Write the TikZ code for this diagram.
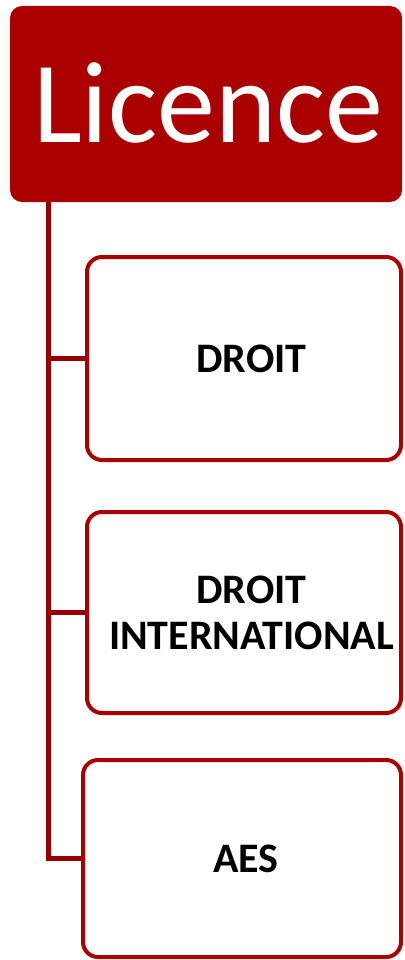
\documentclass[tikz,border=0pt]{standalone}
\usepackage{fontspec}
\setmainfont{Carlito}
\definecolor{boxred}{HTML}{AA0000}
\definecolor{linered}{HTML}{960000}
\begin{document}
\begin{tikzpicture}[x=1pt,y=-1pt]
\useasboundingbox (0,0) rectangle (404,960);
\tikzset{
  childbox/.style={draw=boxred, line width=4pt, fill=white, rounded corners=15pt,
    align=center, inner sep=0pt, text=black,
    font=\fontsize{42}{46}\selectfont\bfseries},
  topbox/.style={fill=boxred, rounded corners=12pt, inner sep=0pt, text=white,
    font=\fontsize{116}{120}\selectfont},
  conn/.style={draw=linered, line width=5pt}
}
\node[topbox, minimum width=392pt, minimum height=196pt] (top) at (206,104) {\raisebox{2pt}{\kern4pt Licence}};
\node[childbox, minimum width=314pt, minimum height=203pt] (c1) at (244,358.5) {\kern15pt DROIT};
\node[childbox, minimum width=314pt, minimum height=201pt] (c2) at (244,612.5) {\kern15pt DROIT\\\kern15pt INTERNATIONAL};
\node[childbox, minimum width=318pt, minimum height=197pt] (c3) at (242,858.5) {\kern8pt AES};
\coordinate (s) at (48,0);
\draw[conn, line cap=round] (s |- top.south) -- (s |- c3.west) -- (c3.west);
\draw[conn] (s |- c1.west) -- (c1.west);
\draw[conn] (s |- c2.west) -- (c2.west);
\end{tikzpicture}
\end{document}
